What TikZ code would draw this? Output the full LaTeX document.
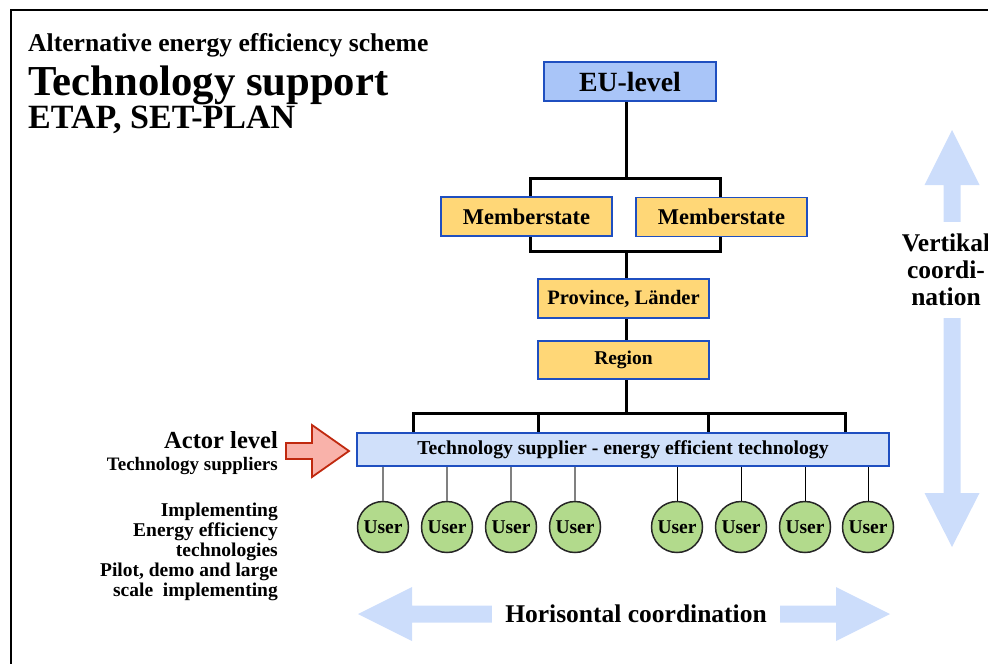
\documentclass[tikz,border=0pt]{standalone}
\usepackage{fontspec}
\setmainfont{Liberation Serif}
\usepackage{tikz}
\usetikzlibrary{positioning,calc,backgrounds}
\definecolor{boxblue}{HTML}{1F4FC0}
\definecolor{eufill}{HTML}{A9C5F8}
\definecolor{levelfill}{HTML}{FFD777}
\definecolor{techfill}{HTML}{D0E0FA}
\definecolor{userfill}{HTML}{B2DA8C}
\definecolor{coordfill}{HTML}{CCDDFB}
\definecolor{actorfill}{HTML}{F9B2AA}
\definecolor{actordraw}{HTML}{C0290F}
\newcommand{\fsz}[2]{\fontsize{#1}{#2}\selectfont\bfseries}
\tikzstyle{level}=[rectangle, draw=boxblue, line width=1.8pt, fill=levelfill, inner sep=0pt, minimum width=171pt, minimum height=39pt]
\tikzstyle{user}=[circle, draw=black!85, line width=1.5pt, fill=userfill, inner sep=0pt, minimum size=51pt, font=\fsz{19.5}{22}]
\tikzstyle{link}=[line width=3pt, line join=miter]
\tikzstyle{label}=[inner sep=0pt]

\begin{document}
\begin{tikzpicture}[x=1pt,y=-1pt]
				\useasboundingbox(0,0)rectangle(988,664);
				\draw[line width=2pt](11,664)--(11,10)--(988,10);
				\node[label, anchor=base west, font=\fsz{25.6}{28}](T1)at(28,51){Alternative energy efficiency scheme};
				\node[label, anchor=base west, font=\fsz{42.7}{45}](T2)at(28,95){Technology support};
				\node[label, anchor=base west, font=\fsz{34}{36}](T3)at(28,128){ETAP, SET-PLAN};
				\node[level, fill=eufill, minimum width=172pt, font=\fsz{27.8}{30}](EU)at(630,81.5){EU-level};
				\node[level, font=\fsz{22.5}{24}](MS1)at(526.5,216.5){Memberstate};
				\node[level, font=\fsz{22.5}{24}](MS2)at(721.5,217){Memberstate};
				\node[level, font=\fsz{20.5}{23}](Prov)at(623.5,298.5){Province, Länder};
				\node[level, minimum height=38pt, font=\fsz{19.5}{22}](Reg)at(623.5,360){Region};
				\node[level, fill=techfill, minimum width=532pt, minimum height=33pt, font=\fsz{19.7}{22}](TS)at(623,449.5){Technology supplier - energy efficient technology};
				\coordinate(j1)at(626,178);
				\coordinate(j1L)at(530,178);
				\coordinate(j1R)at(720,178);
				\coordinate(j2)at(626,251);
				\coordinate(j2L)at(530,251);
				\coordinate(j2R)at(720,251);
				\coordinate(j3)at(626,413);
				\coordinate(j3a)at(413,413);
				\coordinate(j3b)at(538,413);
				\coordinate(j3c)at(708,413);
				\coordinate(j3d)at(845,413);
				\begin{scope}[on background layer]
				\draw[link](j1|-EU.south)--(j1);
				\draw[link](j1L|-MS1.north)--(j1L)--(j1R)--(j1R|-MS2.north);
				\draw[link](j2L|-MS1.south)--(j2L)--(j2R)--(j2R|-MS2.south);
				\draw[link](j2)--(j2|-Prov.north);
				\draw[link](j2|-Prov.south)--(j2|-Reg.north);
				\draw[link](j2|-Reg.south)--(j3);
				\draw[link](j3a|-TS.north)--(j3a)--(j3d)--(j3d|-TS.north);
				\foreach\c in{j3b,j3c}\draw[link](\c)--(\c|-TS.north);
				\end{scope}
				\foreach\x[count=\i]in{383,447,511,575,677,741,805,868}{\node[user](U\i)at(\x,527){User};}
				\foreach\i in{1,...,4}{\draw[gray, line width=1.2pt](U\i.north)--(U\i.north|-TS.south);}
				\foreach\i in{5,...,8}{\draw[black, line width=1pt](U\i.north)--(U\i.north|-TS.south);}
				\draw[actordraw, fill=actorfill, line width=1.8pt, line join=miter](286,443)--(312,443)--(312,425)--(349,451)--(312,477)--(312,459)--(286,459)--cycle;
				\node[label, anchor=base east, font=\fsz{24.5}{27}](AL)at(278,448){Actor level};
				\node[label, anchor=base east, font=\fsz{19}{21}](TSup)at(278,470){Technology suppliers};
				\node[label, anchor=north east, align=right, font=\fsz{19.5}{20}](Impl)at(278,503){Implementing\\Energy efficiency\\technologies\\Pilot, demo and large\\scale\ \ implementing};
				\fill[coordfill](358,614)--(412,587)--(412,605.5)--(836,605.5)--(836,587)--(890,614)--(836,641)--(836,622.5)--(412,622.5)--(412,641)--cycle;
				\node[fill=white, inner xsep=13pt, inner ysep=2pt, anchor=base, font=\fsz{25.5}{28}](HC)at(636,622){Horisontal coordination};
				\fill[coordfill](952,130)--(979.5,185)--(960.5,185)--(960.5,493)--(979.5,493)--(952,547)--(924.5,493)--(943.5,493)--(943.5,185)--(924.5,185)--cycle;
				\node[fill=white, align=center, inner xsep=3pt, inner ysep=12pt, font=\fsz{25.5}{27}](VC)at(946,270){Vertikal\\coordi-\\nation};
			\end{tikzpicture}
\end{document}
